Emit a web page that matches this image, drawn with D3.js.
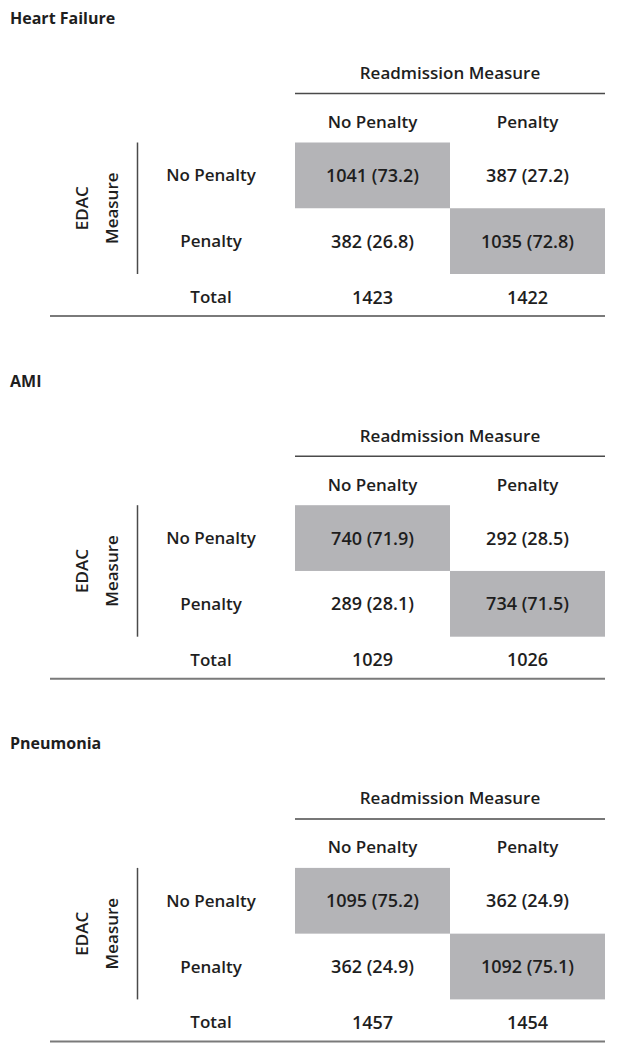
<!DOCTYPE html>
<html>
<head>
<meta charset="utf-8">
<script src="https://cdn.jsdelivr.net/npm/d3@7"></script>
<style>
  body { margin: 0; background: #fff; }
  text { font-family: "Open Sans", sans-serif; fill: #1e1e1e; }
</style>
</head>
<body>
<script>
var panels = ["Heart Failure", "AMI", "Pneumonia"];
var colLabels = ["No Penalty", "Penalty"];
var rowLabels = ["No Penalty", "Penalty"];
//cells in order: row1col1, row1col2, row2col1, row2col2
var counts = [
    [1041, 387, 382, 1035],
    [740, 292, 289, 734],
    [1095, 362, 362, 1092]
];
var pcts = [
    [73.2, 27.2, 26.8, 72.8],
    [71.9, 28.5, 28.1, 71.5],
    [75.2, 24.9, 24.9, 75.1]
];
var totals = [
    [1423, 1422],
    [1029, 1026],
    [1457, 1454]
];

var container = d3.select("body")
    .append("svg")
    .attr("width", 617)
    .attr("height", 1050);

//panel offsets down the page
var py = d3.scaleLinear()
    .domain([0, 1])
    .range([0, 362.7]);

//column and row bands shared by every panel
var x = d3.scaleBand()
    .domain(colLabels)
    .range([295, 605]);

var y = d3.scaleBand()
    .domain(rowLabels)
    .range([142.5, 274]);

var labelX = 211;

panels.forEach(function(name, p){
    var g = container.append("g")
        .attr("transform", "translate(0," + py(p) + ")");

    g.append("text")
        .attr("x", 10)
        .attr("y", 24)
        .style("font-size", "16px")
        .style("font-weight", 700)
        .text(name);

    g.append("text")
        .attr("x", (x.range()[0] + x.range()[1]) / 2)
        .attr("y", 79)
        .attr("text-anchor", "middle")
        .style("font-size", "17px")
        .style("font-weight", 600)
        .text("Readmission Measure");

    g.append("line")
        .attr("x1", x.range()[0])
        .attr("x2", x.range()[1])
        .attr("y1", 93.5)
        .attr("y2", 93.5)
        .style("stroke", "#4a4a4a")
        .style("stroke-width", 1.5);

    //column headers
    g.selectAll(".colhead")
        .data(colLabels)
        .enter()
        .append("text")
        .attr("class", "colhead")
        .attr("x", function(d){ return x(d) + x.bandwidth() / 2; })
        .attr("y", 128)
        .attr("text-anchor", "middle")
        .style("font-size", "17px")
        .style("font-weight", 600)
        .text(function(d){ return d; });

    //build cell records from the arrays
    var cells = counts[p].map(function(c, i){
        return {
            row: rowLabels[Math.floor(i / 2)],
            col: colLabels[i % 2],
            diag: Math.floor(i / 2) === i % 2,
            count: c,
            pct: pcts[p][i]
        };
    });

    g.selectAll(".shade")
        .data(cells.filter(function(d){ return d.diag; }))
        .enter()
        .append("rect")
        .attr("class", "shade")
        .attr("x", function(d){ return x(d.col); })
        .attr("y", function(d){ return y(d.row); })
        .attr("width", x.bandwidth())
        .attr("height", y.bandwidth())
        .style("fill", "#b4b4b7");

    g.selectAll(".cell")
        .data(cells)
        .enter()
        .append("text")
        .attr("class", "cell")
        .attr("x", function(d){ return x(d.col) + x.bandwidth() / 2; })
        .attr("y", function(d){ return y(d.row) + y.bandwidth() / 2 + 6.5; })
        .attr("text-anchor", "middle")
        .style("font-size", "18px")
        .style("font-weight", 600)
        .text(function(d){ return d.count + " (" + d.pct.toFixed(1) + ")"; });

    //row labels
    g.selectAll(".rowhead")
        .data(rowLabels)
        .enter()
        .append("text")
        .attr("class", "rowhead")
        .attr("x", labelX)
        .attr("y", function(d){ return y(d) + y.bandwidth() / 2 + 6; })
        .attr("text-anchor", "middle")
        .style("font-size", "17px")
        .style("font-weight", 600)
        .text(function(d){ return d; });

    g.append("line")
        .attr("x1", 137.5)
        .attr("x2", 137.5)
        .attr("y1", y.range()[0])
        .attr("y2", y.range()[1])
        .style("stroke", "#4a4a4a")
        .style("stroke-width", 1.5);

    var midY = (y.range()[0] + y.range()[1]) / 2;
    g.append("text")
        .attr("transform", "translate(88," + midY + ") rotate(-90)")
        .attr("text-anchor", "middle")
        .style("font-size", "17px")
        .style("font-weight", 600)
        .text("EDAC");

    g.append("text")
        .attr("transform", "translate(118," + midY + ") rotate(-90)")
        .attr("text-anchor", "middle")
        .style("font-size", "17px")
        .style("font-weight", 600)
        .text("Measure");

    //totals row
    g.append("text")
        .attr("x", labelX)
        .attr("y", 303)
        .attr("text-anchor", "middle")
        .style("font-size", "17px")
        .style("font-weight", 600)
        .text("Total");

    g.selectAll(".total")
        .data(totals[p])
        .enter()
        .append("text")
        .attr("class", "total")
        .attr("x", function(d, i){ return x(colLabels[i]) + x.bandwidth() / 2; })
        .attr("y", 303.5)
        .attr("text-anchor", "middle")
        .style("font-size", "18px")
        .style("font-weight", 600)
        .text(function(d){ return d; });

    g.append("line")
        .attr("x1", 50)
        .attr("x2", x.range()[1])
        .attr("y1", 316)
        .attr("y2", 316)
        .style("stroke", "#7a7a7a")
        .style("stroke-width", 2);
});
</script>
</body>
</html>
